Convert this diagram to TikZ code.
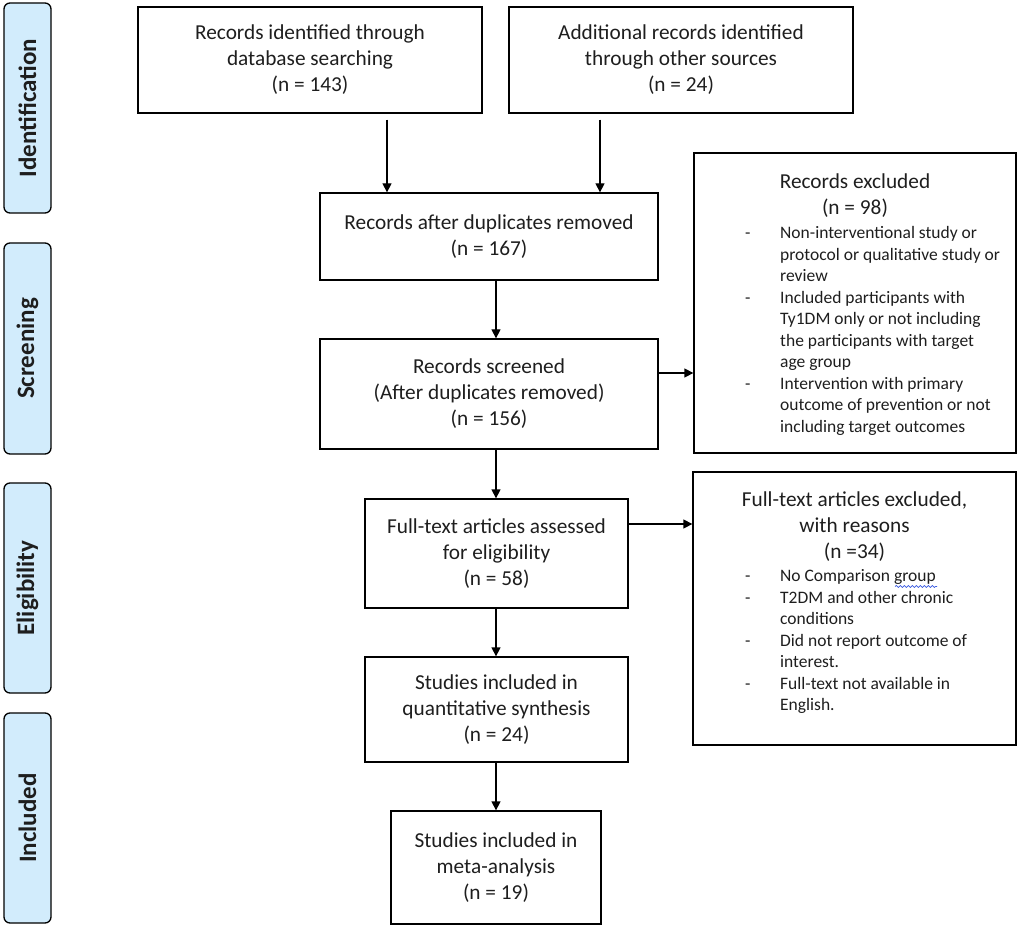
\documentclass[tikz,border=0pt]{standalone}
\usepackage{fontspec}
\setmainfont{Carlito}
\usetikzlibrary{arrows.meta,decorations.pathmorphing}
\definecolor{txt}{HTML}{1E1E1E}
\definecolor{lblue}{HTML}{D2ECFC}
\definecolor{wavecol}{HTML}{3A5BE0}
\begin{document}
\begin{tikzpicture}[x=1pt,y=-1pt,
  box/.style={draw=black, line width=1.3pt, align=center, inner sep=0pt, text=txt,
    font=\fontsize{21.3}{26}\selectfont},
  side/.style={draw=black, line width=1.3pt, fill=lblue, rounded corners=6pt, inner sep=0pt,
    rotate=90, minimum height=47pt, text=txt, font=\fontsize{25}{28}\selectfont\bfseries},
  arr/.style={line width=1.3pt, -{Triangle[length=9pt,width=9pt]}},
  ttl/.style={inner sep=0pt, align=center, text=txt, font=\fontsize{21.3}{26}\selectfont},
  lst/.style={inner sep=0pt, anchor=west, text=txt, font=\fontsize{17.5}{21.5}\selectfont},
  wave/.style={draw=wavecol, line width=0.7pt, decorate,
    decoration={snake, segment length=4pt, amplitude=1pt}}
]
\useasboundingbox (0,0) rectangle (1021,928);

% side labels
\node[side, minimum width=210pt] (L1) at (27.5,108) {Identification};
\node[side, minimum width=211pt] (L2) at (27.5,348.5) {Screening};
\node[side, minimum width=210pt] (L3) at (27.5,588) {Eligibility};
\node[side, minimum width=210pt] (L4) at (27.5,818) {Included};

% main boxes
\node[box, minimum width=344pt, minimum height=106pt] (A) at (310,60)
  {Records identified through\\database searching\\(n = 143)};
\node[box, minimum width=344pt, minimum height=106pt] (B) at (681,60)
  {Additional records identified\\through other sources\\(n = 24)};
\node[box, minimum width=338pt, minimum height=87pt] (C) at (489,236.5)
  {Records after duplicates removed\\(n = 167)};
\node[box, minimum width=338pt, minimum height=110pt] (D) at (489,394)
  {Records screened\\(After duplicates removed)\\(n = 156)};
\node[box, minimum width=263pt, minimum height=109pt] (F) at (496.5,553.5)
  {Full-text articles assessed\\for eligibility\\(n = 58)};
\node[box, minimum width=263pt, minimum height=105pt] (H) at (496.5,709.5)
  {Studies included in\\quantitative synthesis\\(n = 24)};
\node[box, minimum width=210pt, minimum height=113pt] (I) at (496,867.5)
  {Studies included in\\meta-analysis\\(n = 19)};

% exclusion boxes
\node[box, minimum width=322pt, minimum height=300pt] (E) at (855,303) {};
\node[ttl] (Et) at (855,196) {Records excluded\\(n = 98)};
\node[lst] (El) at (745,331) {\begin{tabular}{@{}p{35pt}@{}l@{}}
-&Non-interventional study or\\
&protocol or qualitative study or\\
&review\\
-&Included participants with\\
&Ty1DM only or not including\\
&the participants with target\\
&age group\\
-&Intervention with primary\\
&outcome of prevention or not\\
&including target outcomes
\end{tabular}};

\node[box, minimum width=323pt, minimum height=273pt] (G) at (854.5,608.5) {};
\node[ttl] (Gt) at (854.5,526.5) {Full-text articles excluded,\\with reasons\\(n =34)};
\node[lst] (Gl) at (745,642) {\begin{tabular}{@{}p{35pt}@{}l@{}}
-&No Comparison group\\
-&T2DM and other chronic\\
&conditions\\
-&Did not report outcome of\\
&interest.\\
-&Full-text not available in\\
&English.
\end{tabular}};
\draw[wave] (895,586.5) -- (937,586.5);

% connectors
\coordinate (xl) at (387,0);
\coordinate (xr) at (600,0);
\coordinate (xm) at (496,0);
\coordinate (y1) at (0,373);
\coordinate (y2) at (0,524);
\draw[arr, shorten <=6pt] (A.south -| xl) -- (C.north -| xl);
\draw[arr, shorten <=6pt] (B.south -| xr) -- (C.north -| xr);
\draw[arr] (C.south -| xm) -- (D.north -| xm);
\draw[arr] (D.south -| xm) -- (F.north -| xm);
\draw[arr] (F.south -| xm) -- (H.north -| xm);
\draw[arr] (H.south -| xm) -- (I.north -| xm);
\draw[arr] (D.east |- y1) -- (E.west |- y1);
\draw[arr] (F.east |- y2) -- (G.west |- y2);
\end{tikzpicture}
\end{document}
